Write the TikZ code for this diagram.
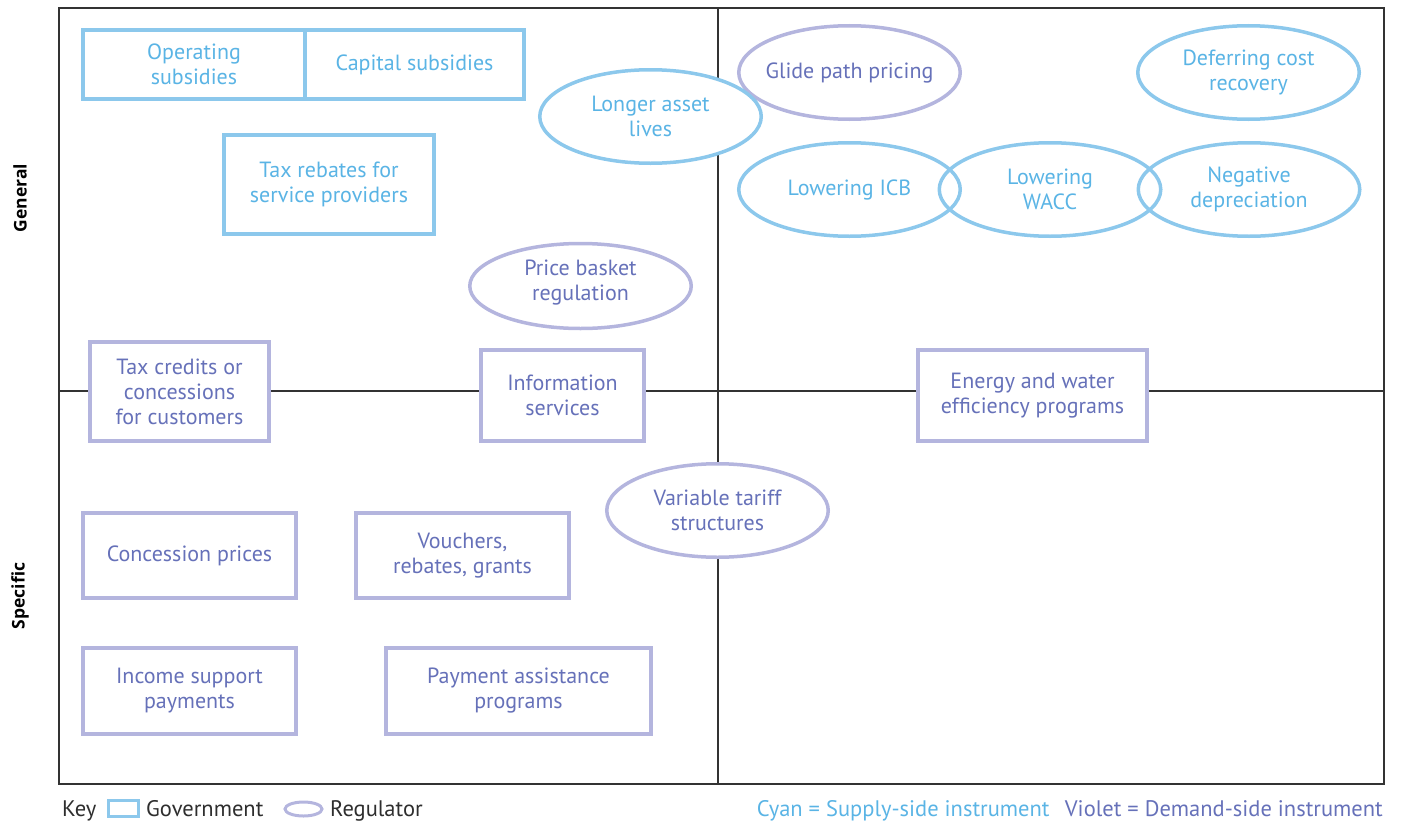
\documentclass[tikz,border=0pt]{standalone}
\usepackage{fontspec}
\setmainfont{PT Sans}
\newfontfamily\axisfont{Open Sans}
\usetikzlibrary{shapes.geometric}
\definecolor{cyanline}{HTML}{8CC8EC}
\definecolor{cyantext}{HTML}{5AB4E5}
\definecolor{violetline}{HTML}{B4B5DE}
\definecolor{violettext}{HTML}{6671B9}
\definecolor{axisgray}{HTML}{333333}
\definecolor{keytext}{HTML}{2E2E2E}

\begin{document}
\begin{tikzpicture}[x=1bp,y=-1bp,
  every node/.style={font=\fontsize{22bp}{25bp}\selectfont},
  instbox/.style={draw, rectangle, line width=3.5bp, fill=white, inner sep=0pt, outer sep=0pt, align=center},
  supply/.style={draw=cyanline, text=cyantext},
  demand/.style={draw=violetline, text=violettext},
  regshape/.style={ellipse, line width=3.5bp, inner sep=0pt, outer sep=0pt,
                   minimum width=221.5bp, minimum height=93.5bp},
  shapetext/.style={align=center, inner sep=0pt},
  keyfont/.style={font=\fontsize{22.5bp}{25bp}\selectfont},
  axisline/.style={draw=axisgray, line width=1.4bp},
  axislabel/.style={font=\axisfont\bfseries\fontsize{17.5bp}{20bp}\selectfont, text=black, rotate=90},
]
\useasboundingbox (0,0) rectangle (1401,825);

% quadrant frame and dividers
\coordinate (tl) at (59,8);
\coordinate (br) at (1384,784);
\coordinate (vtop) at (718,8);
\coordinate (vbot) at (718,784);
\coordinate (hleft) at (59,391);
\coordinate (hright) at (1384,391);
\draw[axisline] (tl) rectangle (br);
\draw[axisline] (vtop) -- (vbot);
\draw[axisline] (hleft) -- (hright);

% axis labels
\node[axislabel] (general) at (20,198) {General};
\node[axislabel] (specific) at (20,596) {Specific};

% government instruments (boxes)
\node[instbox, supply, minimum width=222bp, minimum height=69bp] (opsub) at (194,64.5) {Operating\\subsidies};
\node[instbox, supply, minimum width=219bp, minimum height=69bp] (capsub) at (414.5,64.5) {Capital subsidies};
\node[instbox, supply, minimum width=210bp, minimum height=99bp] (taxreb) at (329,184.5) {Tax rebates for\\service providers};
\node[instbox, demand, minimum width=179bp, minimum height=99bp] (taxcred) at (179.5,391.5) {Tax credits or\\concessions\\for customers};
\node[instbox, demand, minimum width=163bp, minimum height=91bp] (info) at (562.5,395.5) {Information\\services};
\node[instbox, demand, minimum width=229bp, minimum height=91bp] (energy) at (1032.5,395.5) {Energy and water\\efficiency programs};
\node[instbox, demand, minimum width=213bp, minimum height=85bp] (concess) at (189.5,555.5) {Concession prices};
\node[instbox, demand, minimum width=213bp, minimum height=85bp] (vouch) at (462.5,555.5) {Vouchers,\\rebates, grants};
\node[instbox, demand, minimum width=213bp, minimum height=86bp] (income) at (189.5,691) {Income support\\payments};
\node[instbox, demand, minimum width=265bp, minimum height=86bp] (payment) at (518.5,691) {Payment assistance\\programs};

% regulator instruments (ellipses)
\node[regshape, demand, draw, fill=white] (glide) at (849.5,72.5) {};
\node[shapetext, text=violettext] (glide-t) at (glide) {Glide path pricing};
\node[regshape, supply, draw, fill=white] (longer) at (650.5,116.5) {};
\node[shapetext, text=cyantext] (longer-t) at (longer) {Longer asset\\lives};
\node[regshape, supply, draw, fill=white] (defer) at (1248.5,72.5) {};
\node[shapetext, text=cyantext] (defer-t) at (defer) {Deferring cost\\recovery};
\node[regshape, supply, draw] (icb) at (849.5,189.5) {};
\node[shapetext, text=cyantext] (icb-t) at (icb) {Lowering ICB};
\node[regshape, supply, draw] (wacc) at (1050,189.5) {};
\node[shapetext, text=cyantext] (wacc-t) at (wacc) {Lowering\\WACC};
\node[regshape, supply, draw] (negdep) at (1249,189.5) {};
\node[shapetext, text=cyantext] (negdep-t) at (negdep) {Negative\\depreciation};
\node[regshape, demand, draw, fill=white, minimum height=85bp] (basket) at (580.5,286) {};
\node[shapetext, text=violettext] (basket-t) at (580.5,283) {Price basket\\regulation};
\node[regshape, demand, draw, fill=white] (tariff) at (717.5,510.5) {};
\node[shapetext, text=violettext] (tariff-t) at (tariff) {Variable tariff\\structures};

% key
\node[keyfont, anchor=base west, inner sep=0pt, text=keytext] (keyword) at (62,816) {Key};
\node[rectangle, draw=cyanline, line width=3bp, inner sep=0pt, minimum width=30bp, minimum height=16bp] (keybox) at (123.5,808.5) {};
\node[keyfont, anchor=base west, inner sep=0pt, text=keytext] (keygov) at (146,816) {Government};
\node[ellipse, draw=violetline, line width=3bp, inner sep=0pt, minimum width=37bp, minimum height=14bp] (keyell) at (303.5,809) {};
\node[keyfont, anchor=base west, inner sep=0pt, text=keytext] (keyreg) at (330,816) {Regulator};
\node[keyfont, anchor=base east, inner sep=0pt, text=violettext] (keydemand) at (1383,816) {Violet = Demand-side instrument};
\node[keyfont, anchor=base east, inner sep=0pt, text=cyantext] (keysupply) at ([xshift=-15bp]keydemand.base west) {Cyan = Supply-side instrument};
\end{tikzpicture}
\end{document}
